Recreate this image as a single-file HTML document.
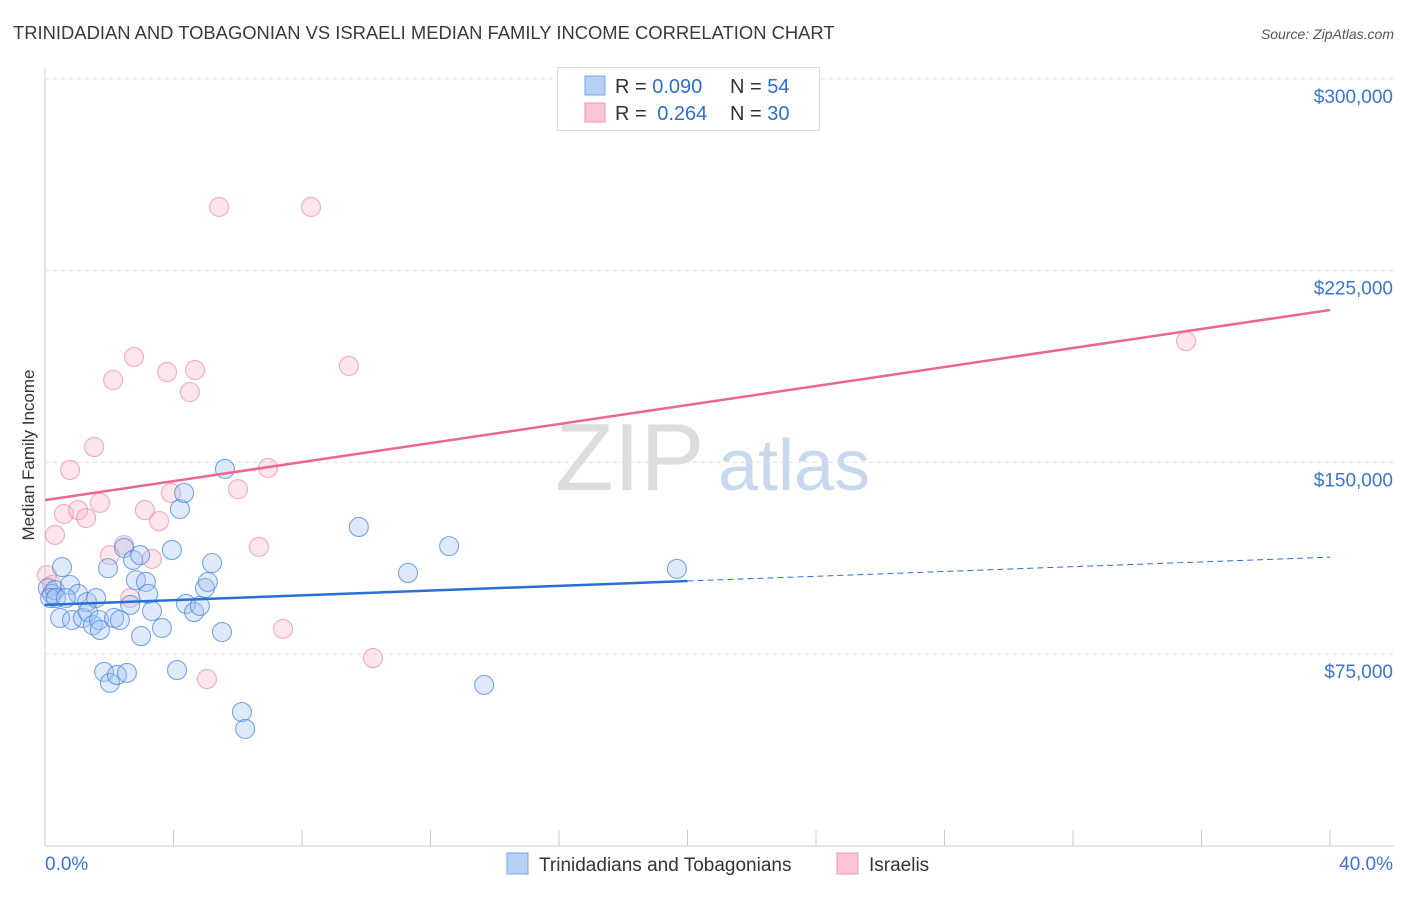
<!DOCTYPE html>
<html><head><meta charset="utf-8"><style>
body{margin:0;background:#fff;font-family:"Liberation Sans",sans-serif}
svg text{font-family:"Liberation Sans",sans-serif}
</style></head><body>
<svg id="c" width="1406" height="892">
<text x="13" y="39" font-size="18.4" fill="#3a3a3a">TRINIDADIAN AND TOBAGONIAN VS ISRAELI MEDIAN FAMILY INCOME CORRELATION CHART</text>
<text x="1394" y="39" font-size="14" fill="#555" font-style="italic" text-anchor="end">Source: ZipAtlas.com</text>
<text x="34" y="455" font-size="17" fill="#333" text-anchor="middle" transform="rotate(-90 34 455)">Median Family Income</text>
<text x="555" y="490" font-size="96" fill="#ddd" font-family="Liberation Serif">ZIP</text>
<text x="718" y="490" font-size="72" fill="#c8d9ef">atlas</text>
<g id="grid"></g><g id="pts"></g><g id="lines"></g>
<g>
<rect x="557.5" y="67.5" width="262" height="63" fill="#fff" stroke="#ddd"/>
<rect x="585" y="76" width="20" height="19" fill="#b6d0f5" stroke="#7aa6e6"/>
<rect x="585" y="103" width="20" height="19" fill="#fac6d6" stroke="#f095b2"/>
<text x="615" y="93" font-size="20" fill="#333">R = <tspan fill="#2f6fd0">0.090</tspan><tspan x="730">N = </tspan><tspan fill="#2f6fd0">54</tspan></text>
<text x="615" y="120" font-size="20" fill="#333">R = <tspan fill="#2f6fd0" dx="5">0.264</tspan><tspan x="730">N = </tspan><tspan fill="#2f6fd0">30</tspan></text>
</g>
<g>
<rect x="507" y="853" width="21" height="21" fill="#b6d0f5" stroke="#7aa6e6"/>
<text x="539" y="871" font-size="19" fill="#333">Trinidadians and Tobagonians</text>
<rect x="837" y="853" width="21" height="21" fill="#fac6d6" stroke="#f095b2"/>
<text x="869" y="871" font-size="19" fill="#333">Israelis</text>
</g>
</svg>
<script>
const yTicks=[75000,150000,225000,300000];
const yTickLabels=["$75,000","$150,000","$225,000","$300,000"];
const xTickLabels=["0.0%","40.0%"];
const blueX=[0.09,0.22,0.31,0.53,0.47,0.78,0.84,1.03,1.18,1.31,1.34,1.49,1.59,1.68,1.71,1.84,1.96,2.02,2.15,2.24,2.33,2.46,2.55,2.65,2.74,2.83,2.96,2.99,3.14,3.21,3.33,3.64,3.95,4.11,4.20,4.33,4.39,4.64,4.82,4.98,5.07,5.20,5.51,5.60,6.13,6.23,9.77,11.30,12.58,13.67,19.67,0.16,0.34,0.65];
const blueY=[100.8,98.5,100.0,109.0,89.1,102.0,88.3,98.5,89.1,95.3,91.4,86.3,96.9,88.3,84.4,68.0,108.6,63.7,89.1,66.8,88.3,116.5,67.6,94.2,111.8,103.9,113.7,82.0,103.2,98.5,91.8,85.2,115.7,68.7,131.7,138.0,94.6,91.4,93.8,100.8,103.2,110.6,83.6,147.4,52.3,45.7,124.7,106.7,117.2,62.9,108.3,96.9,96.9,96.9];
const pinkX=[0.06,0.22,0.31,0.59,0.78,1.03,1.28,1.53,1.71,2.02,2.12,2.46,2.65,2.77,3.11,3.33,3.55,3.80,3.92,4.51,4.67,5.04,5.42,6.01,6.66,6.94,7.41,8.28,9.46,10.21,35.52];
const pinkY=[105.9,102.0,121.6,129.8,147.0,131.3,128.2,156.0,134.1,113.7,182.2,117.6,96.9,191.2,131.3,112.2,127.0,185.3,138.0,177.5,186.1,65.2,249.9,139.5,116.9,147.8,84.8,249.9,187.7,73.4,197.4];
const blueTrend=[94.2,112.9];
const pinkTrend=[135.2,209.6];
const blueSolidEnd=20;
const sx=p=>45+p*32.125;
const sy=k=>654-(k-75)*191.7/75;
const NS="http://www.w3.org/2000/svg";
function mk(tag,attrs,parent){const e=document.createElementNS(NS,tag);for(const k in attrs)e.setAttribute(k,attrs[k]);parent.appendChild(e);return e;}
const grid=document.getElementById('grid');
mk('line',{x1:45,y1:68,x2:45,y2:846,stroke:'#ccc'},grid);
mk('line',{x1:45,y1:846,x2:1394,y2:846,stroke:'#ccc'},grid);
for(let i=0;i<=10;i++){const x=45+i*128.5;const t=mk('line',{x1:x,y1:830,x2:x,y2:846,stroke:'#ccc'},grid);

}
yTicks.forEach((v,i)=>{const y=sy(v/1000);
const l=mk('line',{x1:45,y1:y,x2:1394,y2:y,stroke:'#ddd','stroke-dasharray':'4,4'},grid);


const t=mk('text',{x:1393,y:y+24,'font-size':19,fill:'#3b74d1','text-anchor':'end'},grid);t.textContent=yTickLabels[i];

});
xTickLabels.forEach((s,i)=>{const t=mk('text',{x:i?1393:45,y:870,'font-size':19,fill:'#3b74d1','text-anchor':i?'end':'start'},grid);t.textContent=s;

});
const pts=document.getElementById('pts');
pinkX.forEach((x,i)=>{const c=mk('circle',{cx:sx(x),cy:sy(pinkY[i]),r:9.5,fill:'rgba(248,180,200,0.35)',stroke:'rgba(236,140,170,0.7)','stroke-width':1.1},pts);

});
blueX.forEach((x,i)=>{const c=mk('circle',{cx:sx(x),cy:sy(blueY[i]),r:9.5,fill:'rgba(160,195,240,0.35)',stroke:'rgba(70,130,220,0.7)','stroke-width':1.1},pts);

});
const lines=document.getElementById('lines');
const by=p=>blueTrend[0]+(blueTrend[1]-blueTrend[0])*p/40;
let l1=mk('line',{x1:sx(0),y1:sy(by(0)),x2:sx(blueSolidEnd),y2:sy(by(blueSolidEnd)),stroke:'#2a6fd6','stroke-width':2.5},lines);


let l2=mk('line',{x1:sx(blueSolidEnd),y1:sy(by(blueSolidEnd)),x2:sx(40),y2:sy(by(40)),stroke:'#2a6fd6','stroke-width':1,'stroke-dasharray':'6,4'},lines);


let l3=mk('line',{x1:sx(0),y1:sy(pinkTrend[0]),x2:sx(40),y2:sy(pinkTrend[1]),stroke:'#e8688f','stroke-width':2.5},lines);


</script>
</body></html>
